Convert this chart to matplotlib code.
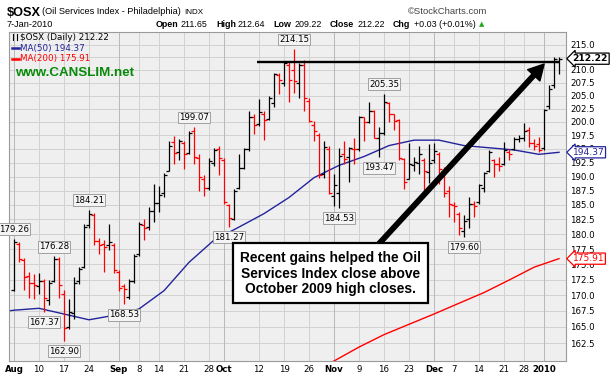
import numpy as np
import matplotlib
matplotlib.use("Agg")
import matplotlib.pyplot as plt
import matplotlib.transforms as mtransforms
from matplotlib.patches import Rectangle, FancyArrowPatch, ArrowStyle
from matplotlib.lines import Line2D

W, H = 610, 381

# daily OHLC, 3-Aug-2009 .. 7-Jan-2010
opens = [170.8, 178.4, 175.7, 173.0, 172.0, 171.4, 172.2, 169.2, 172.3, 175.8,
         170.2, 165.0, 167.2, 172.3, 174.5, 181.5, 183.2, 178.9, 178.4, 178.2,
         178.2, 173.8, 171.5, 169.7, 172.3, 176.6, 181.6, 181.2, 184.0, 185.4,
         187.0, 191.0, 196.3, 194.4, 196.0, 194.2, 198.3, 193.3, 189.5, 188.0,
         192.5, 195.0, 193.0, 185.0, 182.6, 188.0, 191.5, 195.0, 201.0, 199.6,
         201.5, 200.6, 203.5, 209.0, 207.5, 211.0, 210.0, 207.5, 211.0, 204.0,
         199.5, 197.5, 190.5, 195.0, 186.5, 187.0, 194.0, 193.5, 195.0, 195.0,
         201.0, 200.0, 202.0, 197.0, 198.0, 203.5, 201.4, 200.3, 193.2, 189.5,
         192.0, 192.5, 193.0, 190.8, 193.0, 194.0, 191.0, 187.5, 185.0, 183.5,
         180.5, 182.5, 185.2, 185.5, 188.0, 191.0, 193.0, 192.3, 192.2, 194.5,
         195.0, 196.9, 197.0, 198.5, 196.0, 195.8, 195.2, 203.0, 207.0, 211.65]
highs = [179.26, 178.7, 176.0, 173.7, 173.4, 173.6, 172.6, 172.4, 176.28, 176.2,
         170.8, 169.3, 172.9, 174.6, 181.8, 184.21, 183.6, 179.3, 179.0, 181.8,
         178.5, 174.0, 171.7, 172.6, 176.6, 182.1, 182.6, 184.6, 188.6, 188.4,
         190.7, 196.5, 197.3, 196.9, 196.5, 198.3, 199.07, 194.0, 190.2, 193.4,
         195.2, 195.6, 193.4, 185.2, 187.8, 194.0, 195.1, 202.1, 201.4, 204.3,
         202.0, 205.0, 209.4, 209.4, 211.7, 211.7, 214.15, 211.4, 212.0, 204.6,
         200.2, 198.0, 196.4, 195.6, 190.5, 195.2, 196.5, 195.4, 197.0, 201.2,
         201.0, 203.8, 202.2, 199.0, 205.35, 203.8, 201.5, 200.6, 193.4, 196.0,
         193.6, 195.6, 193.4, 195.8, 196.0, 194.5, 191.7, 188.4, 185.5, 183.8,
         183.3, 186.3, 185.7, 188.7, 190.8, 194.8, 193.2, 193.5, 196.3, 195.0,
         197.2, 197.6, 199.8, 199.0, 196.9, 197.2, 202.4, 207.0, 212.5, 212.64]
lows = [170.6, 175.4, 170.8, 169.6, 169.4, 170.2, 167.37, 168.5, 172.1, 169.6,
        162.90, 164.7, 166.2, 171.7, 174.3, 181.0, 178.2, 176.6, 173.8, 177.3,
        173.6, 170.7, 168.53, 169.4, 172.0, 176.3, 179.0, 180.7, 182.1, 183.7,
        186.3, 191.0, 192.3, 193.0, 191.3, 194.0, 192.3, 187.5, 186.6, 187.7,
        191.8, 190.3, 185.2, 181.27, 182.4, 187.8, 191.3, 194.6, 197.8, 199.3,
        196.7, 200.4, 202.9, 205.3, 206.8, 203.7, 205.5, 204.6, 202.1, 200.0,
        196.4, 189.8, 189.8, 186.9, 184.8, 184.53, 192.2, 189.0, 192.2, 194.6,
        196.5, 199.7, 197.0, 193.47, 197.6, 199.9, 198.5, 193.0, 187.8, 189.5,
        191.0, 190.5, 187.5, 188.8, 192.5, 188.7, 186.3, 183.0, 182.1, 179.8,
        179.60, 181.0, 183.0, 185.1, 187.2, 190.8, 189.9, 191.0, 192.0, 192.9,
        194.8, 196.3, 196.5, 195.4, 194.8, 194.5, 194.8, 202.4, 206.4, 209.22]
closes = [178.6, 175.8, 172.9, 172.0, 171.6, 172.3, 169.5, 172.0, 175.9, 171.6,
          164.8, 167.3, 172.0, 174.2, 181.2, 183.4, 178.8, 178.2, 177.9, 178.6,
          174.0, 171.2, 170.9, 172.3, 176.3, 181.8, 181.0, 184.0, 185.4, 186.8,
          190.3, 195.5, 194.2, 196.5, 194.0, 197.9, 193.6, 190.0, 188.0, 192.8,
          194.8, 193.4, 185.5, 182.8, 187.5, 191.5, 195.0, 201.0, 199.5, 201.8,
          200.3, 204.6, 209.2, 208.0, 211.4, 208.0, 207.8, 211.0, 204.5, 200.2,
          198.3, 190.3, 195.3, 187.0, 188.5, 193.7, 193.2, 195.1, 194.9, 201.0,
          199.9, 202.0, 197.0, 198.0, 203.8, 201.4, 200.2, 193.3, 189.0, 192.2,
          192.6, 194.0, 191.0, 192.5, 194.6, 191.3, 187.0, 185.1, 184.8, 181.0,
          182.2, 185.2, 184.9, 188.5, 190.7, 194.5, 192.2, 191.9, 194.8, 194.0,
          196.9, 197.0, 198.3, 196.0, 195.6, 194.8, 202.3, 206.3, 212.19, 212.22]

# moving averages read at sample bars
ma50_idx = [-1, 0, 5, 10, 15, 20, 25, 30, 35, 40, 45, 50, 55, 60, 65, 70, 75, 80, 85, 90, 95, 100, 105, 109]
ma50_val = [167.5, 167.6, 167.9, 167.0, 166.1, 166.8, 167.8, 170.7, 175.3, 179.0, 181.2, 183.5,
            186.3, 189.8, 192.0, 193.6, 195.6, 196.6, 196.6, 195.6, 195.2, 194.8, 194.0, 194.37]
ma200_idx = [63, 64, 69, 74, 79, 84, 89, 94, 99, 104, 109]
ma200_val = [159.4, 159.8, 161.9, 163.8, 165.4, 167.0, 168.7, 170.4, 172.4, 174.5, 175.91]

# week / month grid (bar index) and labels
grid_idx = [0, 5, 10, 15, 21, 25, 29, 34, 39, 42, 49, 54, 59, 64, 69, 74, 79, 84, 88, 93, 98, 102, 106]
grid_lbl = ["Aug", "10", "17", "24", "Sep", "8", "14", "21", "28", "Oct", "12", "19", "26",
            "Nov", "9", "16", "23", "Dec", "7", "14", "21", "28", "2010"]
month_lbl = {"Aug", "Sep", "Oct", "Nov", "Dec", "2010"}

peak_idx = [0, 8, 15, 36, 56, 74]
trough_idx = [6, 10, 22, 43, 65, 73, 90]

resist_level = 211.6
resist_from = 48.6

RED = "#ff0000"
BLUE = "#23239c"
SANS = "Liberation Sans"

fig = plt.figure(figsize=(W / 100, H / 100), dpi=100)
ax = fig.add_axes([9 / W, 1 - 361 / H, (566 - 9) / W, (361 - 32) / H])
ax.set_facecolor("#efefef")

x = np.arange(len(closes))
o = np.array(opens); h = np.array(highs); l = np.array(lows); c = np.array(closes)
prev = np.r_[c[0] - 1, c[:-1]]
cols = np.where(c >= prev, "black", RED)

ax.vlines(x, l, h, colors=cols, lw=0.9, zorder=3)
ax.hlines(o, x - 0.6, x, colors=cols, lw=0.9, zorder=3)
ax.hlines(c, x, x + 0.6, colors=cols, lw=0.9, zorder=3)

ax.plot(ma50_idx, ma50_val, color=BLUE, lw=1.0, zorder=2)
ax.plot(ma200_idx, ma200_val, color=RED, lw=1.0, zorder=2)
ax.hlines(resist_level, resist_from, len(closes) - 0.8, color="black", lw=1.7, zorder=4)

ax.set_yscale("log")
ax.set_ylim(159.8, 217.6)
ax.set_xlim(-1, 110.4)
yt = np.arange(162.5, 215.01, 2.5)
ax.set_yticks(yt)
# the 212.5 label sits under the last-close tag
ax.set_yticklabels(["" if abs(v - 212.5) < 0.1 else f"{v:.1f}" for v in yt])
ax.yaxis.set_minor_locator(matplotlib.ticker.NullLocator())
ax.yaxis.tick_right()
ax.set_xticks(grid_idx)
ax.set_xticklabels(grid_lbl)
for t in ax.get_xticklabels():
    if t.get_text() in month_lbl:
        t.set_fontweight("bold")
ax.tick_params(axis="y", length=0, pad=3, labelsize=6.2)
ax.tick_params(axis="x", length=0, pad=3, labelsize=6.2)

for v in yt:
    ax.axhline(v, color="#d2d2d2", lw=0.7, zorder=1)
for gi, gl in zip(grid_idx, grid_lbl):
    ax.axvline(gi, color="#b8b8b8" if gl in month_lbl else "#d2d2d2", lw=0.7, zorder=1)
for s in ax.spines.values():
    s.set_color("#9a9a9a")
    s.set_linewidth(0.8)

# high / low callouts
box = dict(boxstyle="square,pad=0.15", fc="#f4f4f4", ec="#a0a0a0", lw=0.7)
for i in peak_idx:
    ax.annotate(f"{highs[i]:.2f}", (i, highs[i]), xytext=(0, 5), textcoords="offset pixels",
                ha="center", va="bottom", fontsize=6.2, bbox=box, annotation_clip=False, zorder=6)
for i in trough_idx:
    ax.annotate(f"{lows[i]:.2f}", (i, lows[i]), xytext=(0, -6), textcoords="offset pixels",
                ha="center", va="top", fontsize=6.2, bbox=box, annotation_clip=False, zorder=6)

# right-hand value tags
btr = mtransforms.blended_transform_factory(ax.transAxes, ax.transData)
for val, col, wt in [(closes[-1], "black", "bold"), (ma50_val[-1], BLUE, "normal"), (ma200_val[-1], RED, "normal")]:
    ax.text(1.012, val, f"{val:.2f}", transform=btr, ha="left", va="center", fontsize=6.6,
            color=col, fontweight=wt, clip_on=False, zorder=10,
            bbox=dict(boxstyle="larrow,pad=0.12", fc="white", ec=col, lw=0.9))

# legend block inside the plot
fig.text(20 / W, 1 - 37 / H, f"$OSX (Daily) {closes[-1]:.2f}", fontsize=6.3, va="center", parse_math=False)
fig.lines.append(Line2D([13 / W, 13 / W], [1 - 34 / H, 1 - 40 / H], color="black", lw=0.8, transform=fig.transFigure))
fig.lines.append(Line2D([16.5 / W, 16.5 / W], [1 - 34 / H, 1 - 40 / H], color="black", lw=0.8, transform=fig.transFigure))
fig.lines.append(Line2D([12 / W, 19 / W], [1 - 48 / H, 1 - 48 / H], color=BLUE, lw=1.8, transform=fig.transFigure))
fig.text(20 / W, 1 - 48 / H, f"MA(50) {ma50_val[-1]:.2f}", fontsize=6.3, va="center", color=BLUE)
fig.lines.append(Line2D([12 / W, 19 / W], [1 - 59 / H, 1 - 59 / H], color=RED, lw=1.8, transform=fig.transFigure))
fig.text(20 / W, 1 - 59 / H, f"MA(200) {ma200_val[-1]:.2f}", fontsize=6.3, va="center", color=RED)
fig.text(15 / W, 1 - 73 / H, "www.CANSLIM.net", fontsize=9.6, fontweight="bold", color="#0a8a0a",
         va="center", family=SANS)

# header
fig.text(7 / W, 1 - 13 / H, "$OSX", fontsize=9.2, fontweight="bold", va="center",
         family=SANS, parse_math=False)
fig.text(42 / W, 1 - 12 / H, "(Oil Services Index - Philadelphia)", fontsize=6.6, va="center", family=SANS)
fig.text(184 / W, 1 - 12 / H, "INDX", fontsize=5.8, va="center", family=SANS)
fig.text(408 / W, 1 - 12 / H, "©StockCharts.com", fontsize=6.8, va="center", color="#444444", family=SANS)
fig.text(7 / W, 1 - 24.5 / H, "7-Jan-2010", fontsize=6.6, va="center", family=SANS)
chg = closes[-1] - closes[-2]
hdr = [("Open", 156, True), (f"{opens[-1]:.2f}", 181, False), ("High", 216, True), (f"{highs[-1]:.2f}", 238, False),
       ("Low", 273, True), (f"{lows[-1]:.2f}", 295, False), ("Close", 330, True), (f"{closes[-1]:.2f}", 358, False),
       ("Chg", 393, True), (f"+{chg:.2f} (+{100 * chg / closes[-2]:.2f}%)", 414, False)]
for txt, xp, bold in hdr:
    fig.text(xp / W, 1 - 24.5 / H, txt, fontsize=6.4, va="center", family=SANS,
             fontweight="bold" if bold else "normal")
fig.text(479 / W, 1 - 24.5 / H, "▲", fontsize=5, va="center", color="#22aa22")

# arrow and note box
arr = FancyArrowPatch((376 / W, 1 - 247 / H), (546 / W, 1 - 62 / H), transform=fig.transFigure,
                      arrowstyle=ArrowStyle("simple", head_length=1.1, head_width=1.2, tail_width=0.32),
                      mutation_scale=10, color="black", zorder=7)
fig.patches.append(arr)
fig.patches.append(Rectangle((233 / W, 1 - 303 / H), (428 - 233) / W, 60 / H, transform=fig.transFigure,
                             fc="white", ec="black", lw=1.6, zorder=8))
fig.text(330.5 / W, 1 - 273.5 / H,
         "Recent gains helped the Oil\nServices Index close above\nOctober 2009 high closes.",
         ha="center", va="center", fontsize=9.9, fontweight="bold", linespacing=1.12,
         family=SANS, zorder=9)

fig.savefig("out.png", dpi=100, facecolor="white")
